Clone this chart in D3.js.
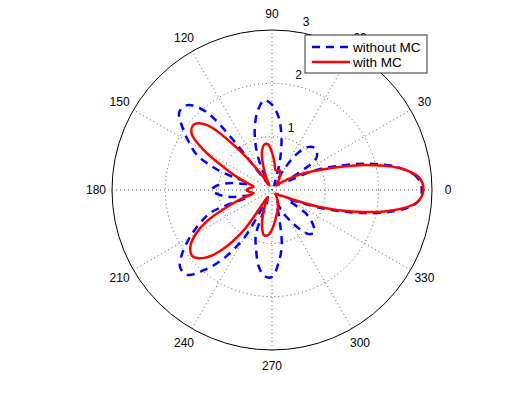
<!doctype html>
<html lang="en">
<head>
    <meta charset="utf-8"/>
    <title>Polar pattern</title>
    <script src="https://d3js.org/d3.v7.min.js"></script>
    <style>
        body {
            margin: 0;
            padding: 0;
            background: #fff;
        }

        text {
            font-family: 'Liberation Sans', Arial, sans-serif;
            font-size: 12px;
        }

        .legend text {
            font-size: 13.5px;
        }
    </style>
</head>
<body>
<script>

    // angles (degrees, counter clockwise from east)
    const angles = d3.range(0, 360, 5)

    // radius, one value per angle
    const withoutMC = [
        2.81, 2.73, 2.42, 1.90, 1.32, 0.85, 0.35, 1.00, 1.10, 1.12, 1.05, 0.85,
        0.45, 0.10, 0.20, 0.58, 1.02, 1.38, 1.60, 1.69, 1.52, 1.24, 0.90, 0.50,
        0.12, 0.20, 1.90, 2.25, 2.27, 2.05, 1.80, 1.55, 1.05, 0.45, 0.75, 1.02,
        1.13, 1.00, 0.75, 0.42, 1.20, 1.50, 1.78, 2.05, 2.25, 2.25, 1.95, 1.55,
        1.00, 0.20, 0.88, 1.15, 1.45, 1.62, 1.63, 1.38, 1.05, 0.50, 0.25, 0.45,
        0.64, 0.88, 1.08, 1.12, 1.00, 0.80, 0.35, 0.50, 1.00, 1.65, 2.30, 2.73
    ]
    const withMC = [
        2.84, 2.76, 2.40, 1.82, 1.22, 0.82, 0.55, 0.35, 0.20, 0.12, 0.15, 0.22,
        0.30, 0.36, 0.40, 0.38, 0.38, 0.52, 0.70, 0.86, 0.86, 0.73, 0.48, 0.25,
        0.10, 0.40, 1.05, 1.72, 1.91, 1.84, 1.45, 0.98, 0.68, 0.45, 0.35, 0.42,
        0.48, 0.42, 0.35, 0.55, 0.85, 1.30, 1.65, 1.87, 1.94, 1.80, 1.47, 0.92,
        0.15, 0.30, 0.50, 0.72, 0.86, 0.85, 0.74, 0.60, 0.48, 0.40, 0.33, 0.26,
        0.20, 0.14, 0.10, 0.10, 0.12, 0.18, 0.22, 0.40, 0.90, 1.55, 2.25, 2.72
    ]

    const seriesNames = ['without MC', 'with MC']
    const seriesColors = ['#0000ff', '#ff0000']
    const ringTicks = [1, 2, 3]
    const spokeAngles = [0, 30, 60, 90, 120, 150]
    const angleLabels = [0, 30, 60, 90, 120, 150, 180, 210, 240, 270, 300, 330]

    const width = 525, height = 395
    const cx = 272, cy = 190
    const rMax = 3

    const svg = d3.select('body')
        .append('svg')
        .attr('width', width)
        .attr('height', height)

    const r = d3.scaleLinear().domain([0, rMax]).range([0, 160])

    const g = svg.append('g').attr('transform', `translate(${cx},${cy})`)

    // radians for d3 (0 = up, clockwise)
    const toD3 = deg => Math.PI / 2 - deg * Math.PI / 180

    // dotted inner rings, solid outer ring
    g.selectAll('circle.ring')
        .data(ringTicks)
        .enter()
        .append('circle')
        .attr('class', 'ring')
        .attr('r', d => r(d))
        .attr('fill', 'none')
        .attr('stroke', d => d === rMax ? '#000' : '#333')
        .attr('stroke-width', d => d === rMax ? 1 : 0.8)
        .attr('stroke-dasharray', d => d === rMax ? null : '1,3')

    // spokes
    g.selectAll('line.spoke')
        .data(spokeAngles)
        .enter()
        .append('line')
        .attr('class', 'spoke')
        .attr('x1', d => -r(rMax) * Math.cos(d * Math.PI / 180))
        .attr('y1', d => r(rMax) * Math.sin(d * Math.PI / 180))
        .attr('x2', d => r(rMax) * Math.cos(d * Math.PI / 180))
        .attr('y2', d => -r(rMax) * Math.sin(d * Math.PI / 180))
        .attr('stroke', '#333')
        .attr('stroke-width', 0.8)
        .attr('stroke-dasharray', '1,3')

    // angle labels at 1.1 * rmax
    g.selectAll('text.ang')
        .data(angleLabels)
        .enter()
        .append('text')
        .attr('class', 'ang')
        .attr('x', d => r(rMax * 1.1) * Math.cos(d * Math.PI / 180))
        .attr('y', d => -r(rMax * 1.1) * Math.sin(d * Math.PI / 180))
        .attr('text-anchor', 'middle')
        .attr('dy', '0.35em')
        .text(d => d)

    // ring labels at 82 degrees like matlab
    const c82 = Math.cos(82 * Math.PI / 180), s82 = Math.sin(82 * Math.PI / 180)
    g.selectAll('text.rlab')
        .data(ringTicks)
        .enter()
        .append('text')
        .attr('class', 'rlab')
        .attr('x', d => r(d + 0.05) * c82 + 8)
        .attr('y', d => -r(d + 0.05) * s82 - 3)
        .text(d => d)

    const line = d3.lineRadial()
        .angle(d => toD3(d[0]))
        .radius(d => r(d[1]))
        .curve(d3.curveCatmullRomClosed.alpha(0.5))

    const series = [withoutMC, withMC]

    g.selectAll('path.series')
        .data(series)
        .enter()
        .append('path')
        .attr('class', 'series')
        .attr('d', vals => line(angles.map((a, i) => [a, vals[i]])))
        .attr('fill', 'none')
        .attr('stroke', (d, i) => seriesColors[i])
        .attr('stroke-width', 2.5)
        .attr('stroke-dasharray', (d, i) => i === 0 ? '8,6' : null)

    // legend
    const legend = svg.append('g')
        .attr('class', 'legend')
        .attr('transform', 'translate(305,35)')
    legend.append('rect')
        .attr('width', 122)
        .attr('height', 38)
        .attr('fill', '#fff')
        .attr('stroke', '#000')
        .attr('stroke-width', 0.8)

    seriesNames.forEach(function (name, i) {
        const y = 12 + i * 15
        legend.append('line')
            .attr('x1', 7).attr('x2', 45)
            .attr('y1', y).attr('y2', y)
            .attr('stroke', seriesColors[i])
            .attr('stroke-width', 2.5)
            .attr('stroke-dasharray', i === 0 ? '8,6' : null)
        legend.append('text')
            .attr('x', 48)
            .attr('y', y)
            .attr('dy', '0.35em')
            .text(name)
    })

</script>
</body>
</html>
